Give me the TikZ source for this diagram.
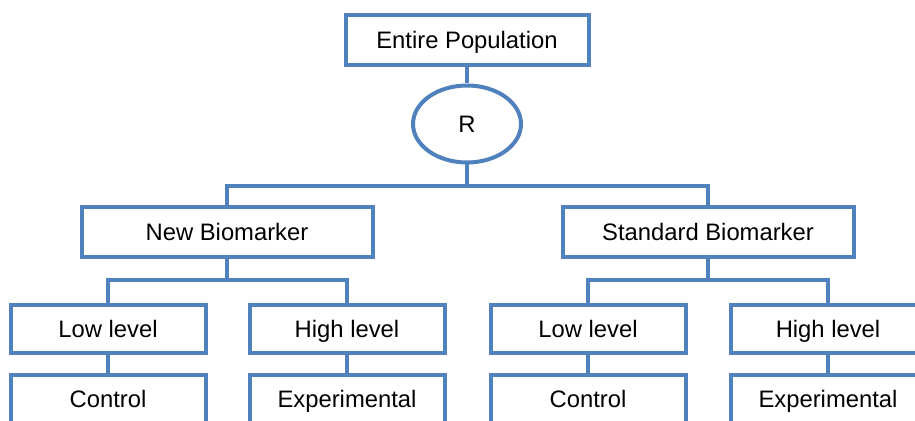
\documentclass[tikz,border=0pt]{standalone}
\usepackage{fontspec}
\setmainfont{Liberation Sans}
\usepackage{tikz}
\usetikzlibrary{shapes.geometric}
\definecolor{boxblue}{RGB}{79,129,189}

\begin{document}
\begin{tikzpicture}[x=0.5pt,y=-0.5pt,
		box/.style={draw=boxblue,line width=2pt,fill=white,rectangle,inner sep=0pt,
			text height=9pt,text depth=0.5pt,font=\fontsize{11.9}{14}\selectfont},
		bigbox/.style={box,minimum width=145.5pt,minimum height=25pt},
		levelbox/.style={box,minimum width=97.5pt,minimum height=24pt},
		randbox/.style={box,ellipse,minimum width=54pt,minimum height=38.5pt},
		link/.style={draw=boxblue,line width=2pt}]
			% 描画範囲
			\useasboundingbox (0,0) rectangle (915,421);
			\clip (0,0) rectangle (915,421);
			% 分岐点の定義
			\coordinate (split_top) at (467,186);
			\coordinate (split_new) at (227,280);
			\coordinate (split_std) at (708,280);
			% ノードの描画
			\node[box,minimum width=121.5pt,minimum height=25pt] (population) at (467,40) {Entire Population};
			\node[randbox] (random) at (467,124) {R};
			\node[bigbox] (new_marker) at (227,232) {New Biomarker};
			\node[bigbox] (std_marker) at (708,232) {Standard Biomarker};
			\node[levelbox] (new_low) at (108,329) {Low level};
			\node[levelbox] (new_high) at (347,329) {High level};
			\node[levelbox] (std_low) at (588,329) {Low level};
			\node[levelbox] (std_high) at (828,329) {High level};
			\node[levelbox] (new_control) at (108,399) {Control};
			\node[levelbox] (new_exp) at (347,399) {Experimental};
			\node[levelbox] (std_control) at (588,399) {Control};
			\node[levelbox] (std_exp) at (828,399) {Experimental};
			% 線の描画
			\path[link] (population) -- (random);
			\path[link] (random) -- (split_top);
			\path[link] (new_marker.north) |- (split_top) -| (std_marker.north);
			\path[link] (new_marker) -- (split_new);
			\path[link] (new_low.north) |- (split_new) -| (new_high.north);
			\path[link] (std_marker) -- (split_std);
			\path[link] (std_low.north) |- (split_std) -| (std_high.north);
			\path[link] (new_low) -- (new_control);
			\path[link] (new_high) -- (new_exp);
			\path[link] (std_low) -- (std_control);
			\path[link] (std_high) -- (std_exp);
		\end{tikzpicture}
\end{document}
